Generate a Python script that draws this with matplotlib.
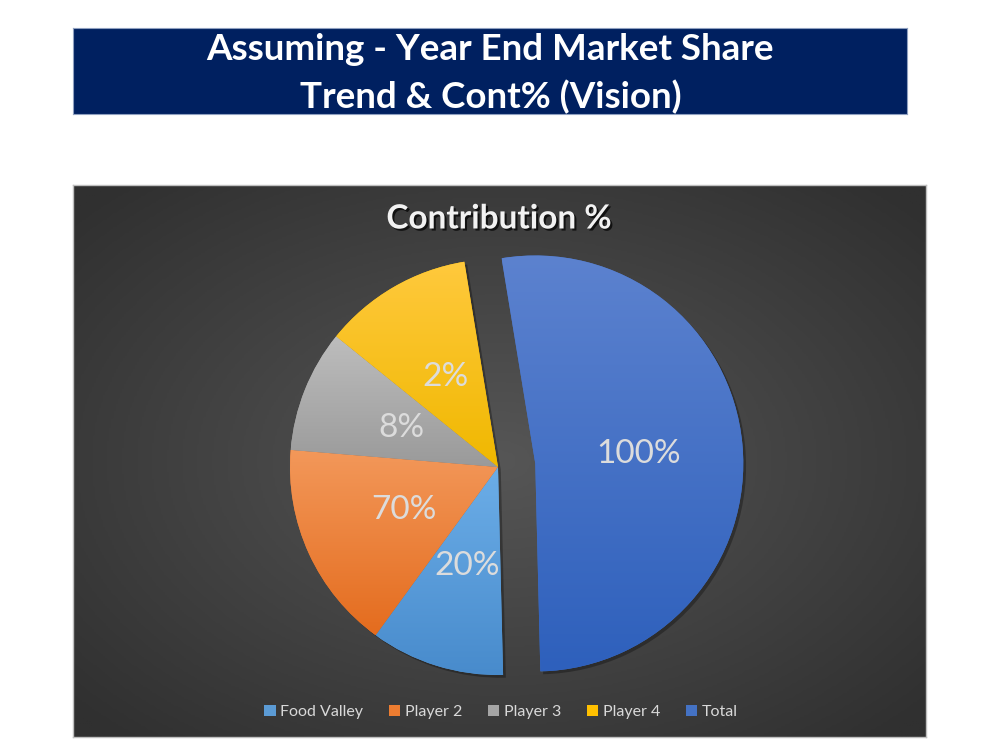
import matplotlib
matplotlib.use("Agg")
import matplotlib.pyplot as plt
import matplotlib.patches as patches
import matplotlib.patheffects as pe
from matplotlib.colors import LinearSegmentedColormap
import numpy as np

plt.rcParams['font.family'] = ['Lato', 'DejaVu Sans']

# data (slice sizes vs the printed contribution labels)
categories = ['Food Valley', 'Player 2', 'Player 3', 'Player 4', 'Total']
share_values = [10.4, 16.3, 9.5, 11.6, 52.2]
contribution_labels = ['20%', '70%', '8%', '2%', '100%']

base_colors = ['#5B9BD5', '#ED7D31', '#A5A5A5', '#FFC000', '#4472C4']
grad_top = ['#6CAEE8', '#F3985A', '#BDBDBD', '#FFC93D', '#5C82CF']
grad_bottom = ['#488BCC', '#E46C1E', '#9A9A9A', '#F0B800', '#2E60BC']
explode = [0, 0, 0, 0, 0.18]

W, H = 1000, 750
fig = plt.figure(figsize=(10, 7.5), dpi=100)
fig.patch.set_facecolor('white')


def px_rect(x0, y0, x1, y1):
    # pixel box (top-left origin) -> figure fraction
    return [x0 / W, 1 - y1 / H, (x1 - x0) / W, (y1 - y0) / H]


# === title banner ===
banner = fig.add_axes(px_rect(73, 28, 907, 114))
banner.set_facecolor('#002060')
banner.set_xticks([]); banner.set_yticks([])
for s in banner.spines.values():
    s.set_edgecolor('#8FA0C0'); s.set_linewidth(0.8)
fig.text(0.490, 1 - 50 / H, 'Assuming - Year End Market Share', ha='center', va='center',
         color='white', fontsize=26.5, fontweight='bold')
fig.text(0.491, 1 - 97 / H, 'Trend & Cont% (Vision)', ha='center', va='center',
         color='white', fontsize=26.5, fontweight='bold')

# === chart area with radial gradient ===
bg = fig.add_axes(px_rect(73, 185, 926, 737))
yy, xx = np.mgrid[-1:1:300j, -1:1:400j]
rr = np.clip(np.sqrt(xx ** 2 + yy ** 2) / 1.35, 0, 1)
bg_cmap = LinearSegmentedColormap.from_list('bg', ['#565656', '#303030'])
bg.imshow(rr, cmap=bg_cmap, aspect='auto', extent=[0, 1, 0, 1], vmin=0, vmax=1)
bg.set_xticks([]); bg.set_yticks([])
for s in bg.spines.values():
    s.set_edgecolor('#BFBFBF'); s.set_linewidth(1)

fig.text(0.499, 1 - 219 / H, 'Contribution %', ha='center', va='center',
         color='#F2F2F2', fontsize=24, fontweight='bold',
         path_effects=[pe.SimplePatchShadow(offset=(1.5, -1.5), shadow_rgbFace='black', alpha=0.7),
                       pe.Normal()])

# === pie ===
ax = fig.add_axes(px_rect(498 - 260, 467 - 260, 498 + 260, 467 + 260))
ax.patch.set_alpha(0)
wedges, texts = ax.pie(share_values, labels=contribution_labels, explode=explode,
                       startangle=-88.6, counterclock=False, radius=1,
                       labeldistance=0.5, frame=False,
                       textprops=dict(color='#DCDCDC', fontsize=24))
for t in texts:
    t.set_ha('center'); t.set_va('center'); t.set_zorder(10)

grad = np.linspace(0, 1, 256).reshape(-1, 1)
for w, c, top, bot in zip(wedges, base_colors, grad_top, grad_bottom):
    w.set_facecolor(c)
    w.set_edgecolor('none')
    w.set_path_effects([pe.SimplePatchShadow(offset=(2, -2), shadow_rgbFace='black', alpha=0.3),
                        pe.Normal()])
    ext = w.get_path().get_extents()
    cmap = LinearSegmentedColormap.from_list('g', [top, bot])
    im = ax.imshow(grad, cmap=cmap, extent=[ext.x0, ext.x1, ext.y0, ext.y1],
                   origin='upper', aspect='auto', zorder=w.get_zorder() + 0.5)
    im.set_clip_path(w)

ax.set_xlim(-1.25, 1.25)
ax.set_ylim(-1.25, 1.25)
ax.set_aspect('equal')
ax.axis('off')

# === legend ===
handles = [patches.Patch(facecolor=c, edgecolor='none') for c in base_colors]
fig.legend(handles, categories, loc='center', bbox_to_anchor=(0.501, 1 - 712 / H),
           ncol=5, frameon=False, fontsize=11.5, labelcolor='#D9D9D9',
           handlelength=0.7, handleheight=0.7, handletextpad=0.3, columnspacing=1.6)

fig.savefig('out.png', dpi=100)
